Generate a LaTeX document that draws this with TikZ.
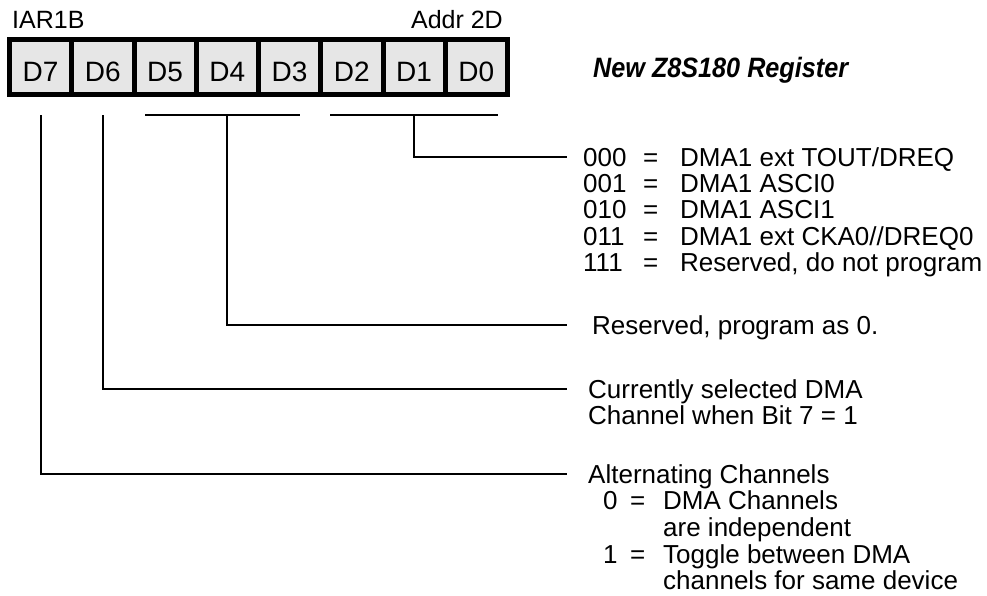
\documentclass[tikz,border=0pt]{standalone}
\usepackage{fontspec}
\setmainfont{Liberation Sans}
\definecolor{regfill}{HTML}{E6E6E6}
\begin{document}
\begin{tikzpicture}[x=1pt,y=-1pt,
  cell/.style={draw, line width=5pt, fill=regfill, minimum width=62.25pt, minimum height=55pt,
    inner sep=0pt, font=\fontsize{28}{30}\selectfont, text height=30pt, text depth=0.6pt},
  lbl/.style={inner sep=0pt, font=\fontsize{25}{28}\selectfont},
  desc/.style={inner sep=0pt, anchor=base west, font=\fontsize{26}{26.2}\selectfont},
  title/.style={inner sep=0pt, anchor=base west, font=\fontsize{28}{30}\selectfont\bfseries\itshape},
  conn/.style={line width=1.8pt}
]
\fill[white] (0,0) rectangle (987,595);
\useasboundingbox (0,0) rectangle (987,595);

% register cells
\node[cell] (d7) at (40.625,67) {D7};
\node[cell] (d6) at (102.875,67) {D6};
\node[cell] (d5) at (165.125,67) {D5};
\node[cell] (d4) at (227.375,67) {D4};
\node[cell] (d3) at (289.625,67) {D3};
\node[cell] (d2) at (351.875,67) {D2};
\node[cell] (d1) at (414.125,67) {D1};
\node[cell] (d0) at (476.375,67) {D0};

\node[lbl, anchor=base west] (iar) at (12,28) {IAR1B};
\node[lbl, anchor=base east] (addr) at (503,28) {Addr 2D};
\node[title] (ttl) at (593,77) {\scalebox{0.9}[1]{New Z8S180 Register}};

% descriptions
\node[desc] (t1) at (583,166) {\begin{tabular}[t]{@{}p{60pt}@{}p{37pt}@{}l@{}}
000 & = & DMA1 ext TOUT/DREQ\\
001 & = & DMA1 ASCI0\\
010 & = & DMA1 ASCI1\\
011 & = & DMA1 ext CKA0//DREQ0\\
111 & = & Reserved, do not program
\end{tabular}};
\node[desc] (t4) at (592,334) {Reserved, program as 0.};
\node[desc] (t6) at (588,398) {\begin{tabular}[t]{@{}l@{}}
Currently selected DMA\\
Channel when Bit 7 = 1
\end{tabular}};
\node[desc] (t7) at (588,483) {\begin{tabular}[t]{@{}p{42pt}@{}p{33pt}@{}l@{}}
\multicolumn{3}{@{}l@{}}{Alternating Channels}\\
\hspace*{15pt}0 & = & DMA Channels\\
 & & are independent\\
\hspace*{15pt}1 & = & Toggle between DMA\\
 & & channels for same device
\end{tabular}};

% connector geometry
\coordinate (bA1) at (145,115);
\coordinate (bA2) at (300,115);
\coordinate (bB1) at (330,115);
\coordinate (bB2) at (498,115);
\coordinate (e1) at (567,157);
\coordinate (e4) at (567,325);
\coordinate (e6) at (567,389);
\coordinate (e7) at (567,474);

\draw[conn] (bA1) -- (bA2);
\draw[conn] (bB1) -- (bB2);
\draw[conn] (d1.south |- bB1) |- (e1);
\draw[conn] (d4.south |- bA1) |- (e4);
\draw[conn] (d6.south |- bA1) |- (e6);
\draw[conn] (d7.south |- bA1) |- (e7);
\end{tikzpicture}
\end{document}
